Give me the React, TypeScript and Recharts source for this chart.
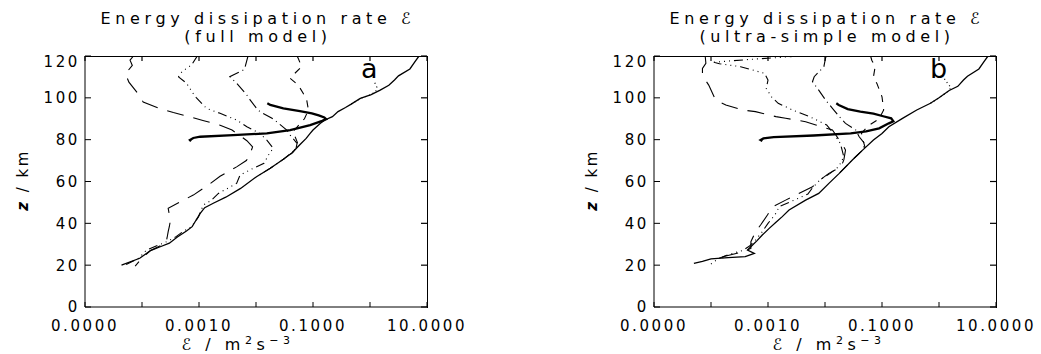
import { ScatterChart, Scatter, XAxis, YAxis } from "recharts";

// [dissipation rate (m^2 s^-3), altitude (km)]
type Pt = [number, number];

const FONT = "'DejaVu Sans', sans-serif";
const INK = "#000";

const epsDomain: [number, number] = [1e-5, 10];
const zDomain: [number, number] = [0, 120];
const epsTicks = [1e-5, 1e-4, 1e-3, 1e-2, 1e-1, 1, 10];
const epsLabelled = [1e-5, 1e-3, 1e-1, 10];
const zTicks = [0, 20, 40, 60, 80, 100, 120];

// ---- panel a: full model ----
const totalA: Pt[] = [
  [4.37e-5, 20], [9.12e-5, 23.3], [1.41e-4, 27], [2.09e-4, 28.8], [3.02e-4, 30.5],
  [4.17e-4, 33.5], [6.03e-4, 36.3], [7.59e-4, 38.4], [8.91e-4, 41.6], [1.05e-3, 44.8],
  [1.26e-3, 47.5], [1.78e-3, 49.6], [2.95e-3, 52.5], [5.37e-3, 56.7], [1.02e-2, 62.3],
  [1.78e-2, 66.3], [3.02e-2, 70.6], [4.37e-2, 73.8], [5.37e-2, 76.5], [6.17e-2, 78.2],
  [7.59e-2, 80.6], [8.91e-2, 83], [0.1, 84.6], [0.135, 87.8], [0.162, 89.4],
  [0.219, 91], [0.275, 93.4], [0.372, 95.4], [0.468, 97], [0.676, 99.7],
  [1.05, 101.5], [1.51, 103.7], [2.14, 106], [2.69, 108.5], [3.16, 110.5],
  [5.01, 113.8], [6.03, 117], [7.24, 120],
];
const thickA: Pt[] = [
  [7.24e-4, 79.2], [6.92e-4, 79.8], [7.94e-4, 80.8], [1.05e-3, 81.4], [3.98e-3, 82.2],
  [1.55e-2, 83], [3.98e-2, 84.6], [8.91e-2, 87], [0.145, 89], [0.17, 89.8],
  [0.158, 90.6], [0.126, 91.6], [9.55e-2, 92.6], [5.89e-2, 93.6], [3.02e-2, 95],
  [1.78e-2, 96.6], [1.58e-2, 97.4],
];
const longDashA: Pt[] = [
  [7.08e-5, 120], [6.17e-5, 118], [6.76e-5, 115.5], [5.13e-5, 111.5], [5.89e-5, 107.5],
  [8.51e-5, 102], [1.05e-4, 98], [2.0e-4, 95], [3.55e-4, 93], [6.76e-4, 91],
  [1.17e-3, 89.2], [2.29e-3, 87], [3.8e-3, 84.6], [6.92e-3, 79.5], [8.71e-3, 76.5],
  [7.59e-3, 72], [6.76e-3, 70], [4.57e-3, 67], [2.34e-3, 62.5], [1.45e-3, 58.3],
  [7.94e-4, 53.5], [4.68e-4, 50.3], [2.88e-4, 47.2], [3.02e-4, 44], [3.16e-4, 41.6],
  [3.02e-4, 38.5], [2.88e-4, 36], [2.75e-4, 33], [2.63e-4, 30.5], [1.41e-4, 27],
  [1.0e-4, 23.4], [7.59e-5, 19.5],
];
const dashDot3A: Pt[] = [
  [9.55e-4, 120], [9.12e-4, 119.6], [7.41e-4, 115.7], [6.03e-4, 114.1], [4.68e-4, 111.7],
  [4.37e-4, 110], [6.03e-4, 107], [7.94e-4, 102], [9.12e-4, 99.8], [1.35e-3, 95],
  [2.34e-3, 92.6], [4.57e-3, 89.4], [6.92e-3, 86.2], [1.17e-2, 83], [1.55e-2, 79.8],
  [2.0e-2, 75.9], [1.66e-2, 72.7], [1.38e-2, 68.7], [8.91e-3, 66.3], [5.25e-3, 63.1],
  [4.57e-3, 59.1], [2.19e-3, 54.3], [1.66e-3, 51.1], [1.2e-3, 48.8], [1.12e-3, 47],
  [9.77e-4, 43], [7.41e-4, 38.4], [5.37e-4, 36.3], [3.8e-4, 33.3], [2.69e-4, 31.2],
  [1.2e-4, 27.2], [8.71e-5, 23.3], [5.01e-5, 20],
];
const dashDotA: Pt[] = [
  [7.24e-3, 120], [6.46e-3, 114.9], [6.03e-3, 113.3], [3.98e-3, 110.9], [3.47e-3, 110.1],
  [4.57e-3, 107], [6.92e-3, 101.3], [7.94e-3, 98.9], [1.02e-2, 95], [1.17e-2, 93.4],
  [1.91e-2, 90.2], [2.29e-2, 88.6], [3.47e-2, 84.6], [3.98e-2, 82.2], [5.25e-2, 78.2],
  [5.01e-2, 75.5], [3.02e-2, 70.6], [1.78e-2, 66.3], [1.02e-2, 62.3],
];
const shortDashA: Pt[] = [
  [5.25e-2, 120], [5.5e-2, 118.9], [6.31e-2, 114.9], [4.47e-2, 110.9], [3.98e-2, 109.3],
  [5.5e-2, 106.1], [6.76e-2, 102.1], [7.76e-2, 98.9], [8.32e-2, 94.2], [7.08e-2, 90],
  [5.25e-2, 86], [4.47e-2, 83.8], [5.13e-2, 79.8], [5.5e-2, 77.5], [4.37e-2, 73.8],
  [3.02e-2, 70.6],
];
const dottedA: Pt[] = [
  [0.468, 97], [0.676, 99.7], [1.0, 101.3], [1.26, 103], [1.32, 105], [1.2, 107.5],
];

// ---- panel b: ultra-simple model ----
const totalB: Pt[] = [
  [5.01e-5, 20.8], [7.08e-5, 21.8], [1.0e-4, 23], [2.0e-4, 23.6], [3.98e-4, 24.1],
  [5.75e-4, 25.6], [4.37e-4, 27.2], [5.25e-4, 29.4], [6.31e-4, 31.5], [7.94e-4, 34.4],
  [1.05e-3, 37.6], [1.38e-3, 40.5], [1.78e-3, 43.2], [2.34e-3, 46.4], [4.57e-3, 51.1],
  [7.76e-3, 54.3], [1.17e-2, 59.1], [1.78e-2, 63.9], [3.02e-2, 70.3], [4.57e-2, 75],
  [7.08e-2, 79.8], [0.1, 83], [0.132, 86.2], [0.229, 90.2], [0.407, 94.2],
  [0.708, 97.4], [1.0, 100], [1.51, 103.5], [2.14, 105.5], [2.69, 108.5],
  [3.16, 110.3], [5.01, 113.8], [6.03, 117], [7.24, 120],
];
const thickB: Pt[] = [
  [7.94e-4, 79.3], [7.41e-4, 79.8], [8.32e-4, 80.6], [1.26e-3, 81.2], [6.31e-3, 82],
  [2.82e-2, 83], [5.25e-2, 84], [8.91e-2, 85.4], [0.132, 87.8], [0.158, 88.8],
  [0.145, 90.2], [0.105, 91.2], [7.08e-2, 92.4], [4.17e-2, 93.4], [2.51e-2, 94.6],
  [1.74e-2, 96.6], [1.58e-2, 97.4],
];
const longDashB: Pt[] = [
  [7.94e-5, 119.5], [8.13e-5, 116.5], [7.08e-5, 114.1], [7.08e-5, 111.7], [7.59e-5, 109.3],
  [9.12e-5, 106.1], [1.2e-4, 99], [1.82e-4, 96.6], [3.55e-4, 94.2], [6.03e-4, 93.4],
  [1.38e-3, 91], [2.04e-3, 90.2], [4.57e-3, 88.6], [6.92e-3, 87], [1.35e-2, 84.6],
  [1.55e-2, 82.2], [2.14e-2, 76.6], [2.29e-2, 75], [2.14e-2, 70.3], [1.91e-2, 67],
  [1.17e-2, 63.9], [8.91e-3, 61.5], [6.03e-3, 57.5], [3.47e-3, 54.3], [2.04e-3, 51.1],
  [1.2e-3, 47.9], [9.77e-4, 44], [7.41e-4, 39.2], [6.03e-4, 36], [5.01e-4, 31.2],
  [5.01e-4, 28], [3.55e-4, 26.3], [2.24e-4, 25], [1.62e-4, 24], [1.58e-4, 22.5],
  [1.91e-4, 20.3],
];
const dashDot3B: Pt[] = [
  [3.47e-3, 120], [1.58e-3, 119.3], [6.31e-4, 118.6], [2.51e-4, 117.8], [1.12e-4, 117],
  [1.41e-4, 116.3], [3.31e-4, 114.9], [8.71e-4, 111.7], [1.0e-3, 108.5], [9.33e-4, 104.5],
  [1.15e-3, 100.5], [1.51e-3, 97.4], [2.69e-3, 94.2], [5.37e-3, 91], [1.07e-2, 87],
  [1.41e-2, 83], [1.86e-2, 78.2], [2.14e-2, 71.8], [1.74e-2, 67.1], [1.23e-2, 63.9],
  [8.13e-3, 60.7], [6.03e-3, 57], [5.01e-3, 54], [2.82e-3, 51], [1.58e-3, 48],
  [1.32e-3, 44], [1.0e-3, 40], [7.94e-4, 36], [6.03e-4, 32], [4.68e-4, 29],
  [3.55e-4, 27], [2.0e-4, 25], [1.38e-4, 23.3], [9.33e-5, 20],
];
const dashDotB: Pt[] = [
  [1.05e-2, 120], [1.02e-2, 118.9], [9.55e-3, 114.9], [6.46e-3, 110.1], [6.03e-3, 107.7],
  [7.76e-3, 103.7], [1.02e-2, 99], [1.35e-2, 95], [1.78e-2, 91], [2.29e-2, 87.8],
  [3.47e-2, 84.6], [3.98e-2, 81.4], [5.01e-2, 78], [4.57e-2, 75], [3.02e-2, 70.3],
  [1.78e-2, 63.9],
];
const shortDashB: Pt[] = [
  [6.31e-2, 120], [6.61e-2, 118], [7.59e-2, 114.9], [7.08e-2, 110], [8.13e-2, 106.9],
  [0.1, 100.5], [0.107, 94.2], [8.91e-2, 90], [5.62e-2, 86.5], [4.37e-2, 83],
  [4.68e-2, 79.5], [5.01e-2, 76.6], [4.57e-2, 75], [3.02e-2, 70.3],
];
const dottedB: Pt[] = [
  [0.708, 97.4], [1.0, 100], [1.51, 103.5], [1.62, 105], [1.41, 107], [1.23, 109.3],
];

const LINE_STYLES: Record<string, { strokeWidth: number; strokeDasharray?: string }> = {
  total: { strokeWidth: 1.3 },
  thick: { strokeWidth: 2.3 },
  longDash: { strokeWidth: 1.1, strokeDasharray: "17 10" },
  dashDot3: { strokeWidth: 1.1, strokeDasharray: "9 4 1 4 1 4 1 4" },
  dashDot: { strokeWidth: 1.1, strokeDasharray: "11 4 1 4" },
  shortDash: { strokeWidth: 1.1, strokeDasharray: "7 7" },
  dotted: { strokeWidth: 1.2, strokeDasharray: "1 3" },
};

interface Curve {
  name: string;
  kind: string;
  points: Pt[];
}

const curvesA: Curve[] = [
  { name: "total", kind: "total", points: totalA },
  { name: "longDash", kind: "longDash", points: longDashA },
  { name: "dashDot3", kind: "dashDot3", points: dashDot3A },
  { name: "dashDot", kind: "dashDot", points: dashDotA },
  { name: "shortDash", kind: "shortDash", points: shortDashA },
  { name: "dotted", kind: "dotted", points: dottedA },
  { name: "thick", kind: "thick", points: thickA },
];
const curvesB: Curve[] = [
  { name: "total", kind: "total", points: totalB },
  { name: "longDash", kind: "longDash", points: longDashB },
  { name: "dashDot3", kind: "dashDot3", points: dashDot3B },
  { name: "dashDot", kind: "dashDot", points: dashDotB },
  { name: "shortDash", kind: "shortDash", points: shortDashB },
  { name: "dotted", kind: "dotted", points: dottedB },
  { name: "thick", kind: "thick", points: thickB },
];

// chart box and plot frame (px, inside each panel)
const W = 520;
const H = 354;
const PLOT_LEFT = 85;
const PLOT_TOP = 56;
const PLOT_RIGHT = 427;
const PLOT_BOTTOM = 307;
const TICK_X = 5;
const TICK_Y = 6;

const toRows = (pts: Pt[]) => pts.map(([e, z]) => ({ e, z }));

function epsLabel(v: number): string {
  return epsLabelled.includes(v) ? v.toFixed(4) : "";
}

// bottom tick label + the matching inward tick on the top edge
function EpsTick(props: any) {
  const { x, y, payload } = props;
  return (
    <g>
      <line x1={x} x2={x} y1={PLOT_TOP} y2={PLOT_TOP + TICK_X} stroke={INK} strokeWidth={1.2} />
      <text
        x={x}
        y={y}
        dy="0.71em"
        textAnchor="middle"
        fill={INK}
        fontSize={15}
        fontFamily={FONT}
        letterSpacing={2.6}
      >
        {epsLabel(payload.value)}
      </text>
    </g>
  );
}

// left tick label + the matching inward tick on the right edge
function ZTick(props: any) {
  const { x, y, payload } = props;
  // the top label sits a little lower than its tick in the original
  const shift = payload.value === 120 ? 6 : 0;
  return (
    <g>
      <line x1={PLOT_RIGHT} x2={PLOT_RIGHT - TICK_Y} y1={y} y2={y} stroke={INK} strokeWidth={1.2} />
      <text
        x={x}
        y={y + shift}
        dy="0.36em"
        textAnchor="end"
        fill={INK}
        fontSize={15}
        fontFamily={FONT}
        letterSpacing={2.6}
      >
        {payload.value}
      </text>
    </g>
  );
}

interface PanelProps {
  left: number;
  subtitle: string;
  letter: string;
  xLabelAt: number;
  curves: Curve[];
}

function Panel({ left, subtitle, letter, xLabelAt, curves }: PanelProps) {
  return (
    <div style={{ position: "absolute", left, top: 0, width: W, height: H }}>
      <ScatterChart
        width={W}
        height={H}
        margin={{ top: PLOT_TOP, right: W - PLOT_RIGHT, bottom: 17, left: 40 }}
      >
        <XAxis
          xAxisId="bottom"
          dataKey="e"
          type="number"
          scale="log"
          domain={epsDomain}
          allowDataOverflow
          ticks={epsTicks}
          interval={0}
          tickSize={-TICK_X}
          tickMargin={18}
          height={30}
          stroke={INK}
          tick={<EpsTick />}
        />
        <YAxis
          yAxisId="left"
          dataKey="z"
          type="number"
          domain={zDomain}
          allowDataOverflow
          ticks={zTicks}
          interval={0}
          tickSize={-TICK_Y}
          tickMargin={11}
          width={45}
          stroke={INK}
          tick={<ZTick />}
        />
        {curves.map((c) => (
          <Scatter
            key={c.name}
            name={c.name}
            xAxisId="bottom"
            yAxisId="left"
            data={toRows(c.points)}
            fill="none"
            line={{ stroke: INK, fill: "none", ...LINE_STYLES[c.kind] }}
            shape={() => <g />}
            isAnimationActive={false}
          />
        ))}
      </ScatterChart>
      {/* plot frame as a plain bordered box over the plot area */}
      <div
        style={{
          position: "absolute",
          left: PLOT_LEFT - 0.5,
          top: PLOT_TOP - 0.5,
          width: PLOT_RIGHT - PLOT_LEFT + 1,
          height: PLOT_BOTTOM - PLOT_TOP + 1,
          boxSizing: "border-box",
          borderTop: `1px solid ${INK}`,
          borderRight: `1px solid ${INK}`,
          pointerEvents: "none",
        }}
      />
      <svg width={W} height={H} style={{ position: "absolute", left: 0, top: 0, pointerEvents: "none" }}>
        <g fill={INK} fontFamily={FONT} fontSize={16} textAnchor="middle" letterSpacing={4.6}>
          <text x={258} y={24}>Energy dissipation rate ℰ</text>
          <text x={258} y={42}>{subtitle}</text>
        </g>
        <text x={361} y={78} fontFamily={FONT} fontSize={27} fill={INK}>
          {letter}
        </text>
        <text
          transform="translate(28,180) rotate(-90)"
          textAnchor="middle"
          fontFamily={FONT}
          fontSize={15}
          letterSpacing={2.5}
          fill={INK}
        >
          <tspan fontStyle="italic" fontWeight="bold">z</tspan> / km
        </text>
        <text x={xLabelAt} y={350} textAnchor="middle" fontFamily={FONT} fontSize={16} letterSpacing={4.5} fill={INK}>
          ℰ / m<tspan dy={-6} fontSize={11}>2</tspan>
          <tspan dy={6}>s</tspan>
          <tspan dy={-6} fontSize={11}>−3</tspan>
        </text>
      </svg>
    </div>
  );
}

export default function App() {
  return (
    <div style={{ position: "absolute", left: 0, top: 0, width: 1041, height: 354, background: "#fff" }}>
      <Panel left={0} subtitle="(full model)" letter="a" xLabelAt={238} curves={curvesA} />
      <Panel left={569} subtitle="(ultra-simple model)" letter="b" xLabelAt={260} curves={curvesB} />
    </div>
  );
}
